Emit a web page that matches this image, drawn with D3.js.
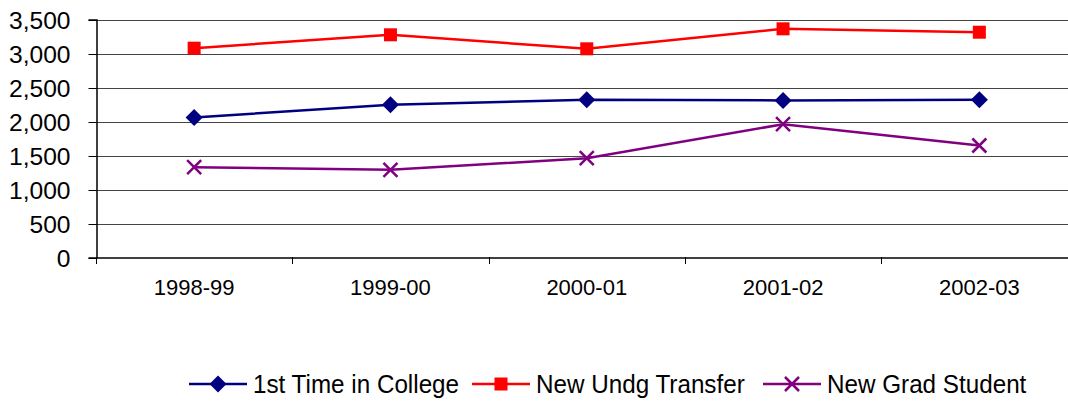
<!DOCTYPE html>
<html><head><meta charset="utf-8">
<script src="https://cdn.jsdelivr.net/npm/d3@7/dist/d3.min.js"></script>
<style>html,body{margin:0;padding:0;background:#fff;overflow:hidden}svg{display:block}text{font-family:"Liberation Sans",Arial,sans-serif;fill:#000}</style>
</head><body>
<script>
const categories = ["1998-99","1999-00","2000-01","2001-02","2002-03"];
const firstTime = [2060, 2245, 2320, 2310, 2320];
const undgTransfer = [3078, 3275, 3069, 3363, 3313];
const gradStudent = [1328, 1289, 1460, 1960, 1647];
const yTicks = [0,500,1000,1500,2000,2500,3000,3500];
const seriesNames = ["1st Time in College","New Undg Transfer","New Grad Student"];

const W = 1068, H = 401;
const svg = d3.select("body").append("svg").attr("width", W).attr("height", H);
const x = d3.scaleBand().domain(categories).range([96, 1077.5]);
const y = d3.scaleLinear().domain([0, 3500]).range([257.5, 19.5]);

// gridlines
svg.append("g").selectAll("line").data(yTicks.filter(d => d > 0)).join("line")
  .attr("x1", 96).attr("x2", W).attr("y1", d => Math.round(y(d)) + 0.5).attr("y2", d => Math.round(y(d)) + 0.5)
  .attr("stroke", "#444").attr("stroke-width", 1);

// y axis
const yAxis = d3.axisLeft(y).tickValues(yTicks).tickSize(8).tickPadding(18).tickFormat(d3.format(","));
const gy = svg.append("g").attr("transform", "translate(96.5,0)").call(yAxis);
gy.select(".domain").attr("stroke", "#000").attr("stroke-width", 1.5);
gy.selectAll(".tick line").attr("stroke", "#000");
gy.selectAll(".tick text").style("font-size", "23px").attr("dy", "0.35em")
  .attr("transform", "translate(-26,0) scale(1.07,1) translate(26,0)");
gy.selectAll(".tick").attr("transform", d => `translate(0,${Math.round(y(d)) + 0.5})`);

// x axis
const xAxis = d3.axisBottom(x).tickSize(0).tickPadding(22);
const gx = svg.append("g").attr("transform", "translate(0,257.5)").call(xAxis);
gx.select(".domain").attr("stroke", "#000").attr("stroke-width", 1.5);
gx.selectAll(".tick text").style("font-size", "22px");
// boundary ticks
svg.append("g").selectAll("line").data(categories).join("line")
  .attr("x1", d => Math.round(x(d)) + 0.5).attr("x2", d => Math.round(x(d)) + 0.5)
  .attr("y1", 257).attr("y2", 264).attr("stroke", "#000").attr("stroke-width", 1);

const series = [
  {name: seriesNames[0], values: firstTime, color: "#000080", marker: "diamond"},
  {name: seriesNames[1], values: undgTransfer, color: "#FF0000", marker: "square"},
  {name: seriesNames[2], values: gradStudent, color: "#800080", marker: "x"}
];
const cx = c => x(c) + x.bandwidth() / 2;
function drawMarker(g, type, color) {
  if (type === "diamond") g.append("path").attr("d", "M0,-8.5L8.5,0L0,8.5L-8.5,0Z").attr("fill", color);
  else if (type === "square") g.append("rect").attr("x", -6.5).attr("y", -6.5).attr("width", 13).attr("height", 13).attr("fill", color);
  else g.append("path").attr("d", "M-7,-7L7,7M-7,7L7,-7").attr("stroke", color).attr("stroke-width", 2.5).attr("fill", "none");
}
const line = d3.line().x((d, i) => cx(categories[i])).y(d => y(d));
series.forEach(s => {
  svg.append("path").datum(s.values).attr("d", line).attr("fill", "none").attr("stroke", s.color).attr("stroke-width", 2.5);
  s.values.forEach((v, i) => {
    const g = svg.append("g").attr("transform", `translate(${cx(categories[i])},${y(v)})`);
    drawMarker(g, s.marker, s.color);
  });
});

// legend
const legendX = [189, 472, 763];
const ly = 384;
series.forEach((s, i) => {
  const g = svg.append("g").attr("transform", `translate(${legendX[i]},${ly})`);
  g.append("line").attr("x1", 0).attr("x2", 58).attr("stroke", s.color).attr("stroke-width", 2.5);
  const m = g.append("g").attr("transform", "translate(29,0)");
  drawMarker(m, s.marker, s.color);
  g.append("text").attr("x", 64).attr("y", 0).attr("dy", "0.36em").style("font-size", "25px")
    .attr("transform", "translate(64,0) scale(0.97,1) translate(-64,0)").text(s.name);
});
</script>
</body></html>
